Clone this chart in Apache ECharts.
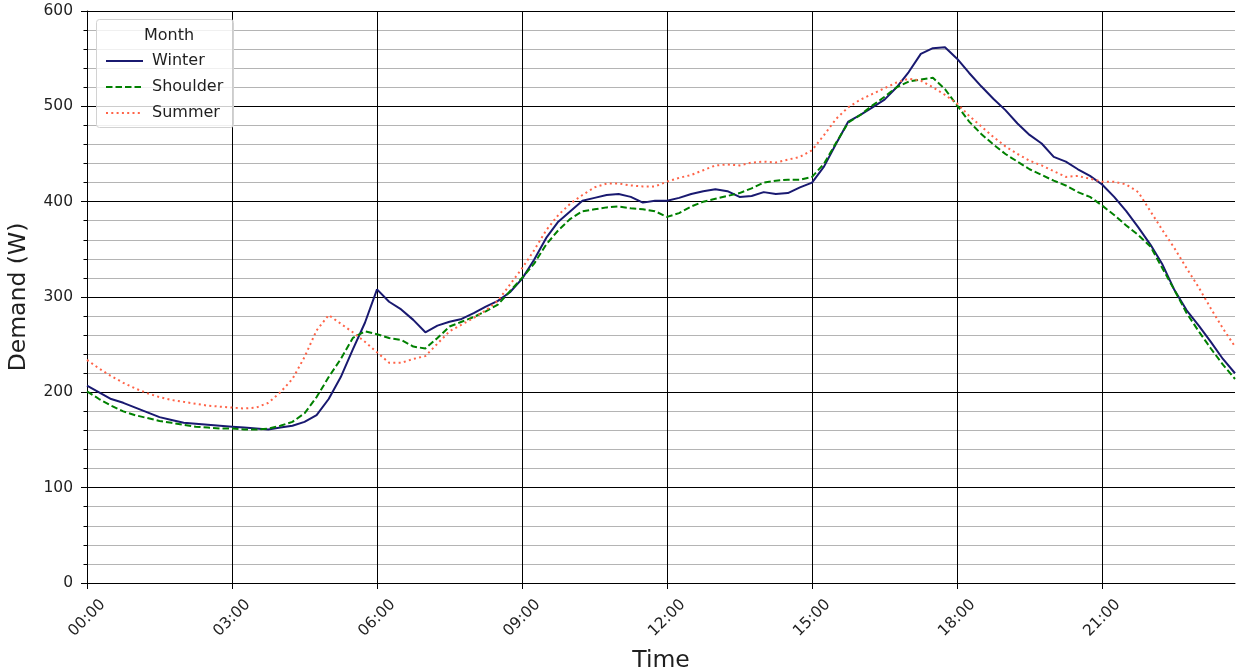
<!DOCTYPE html>
<html>
<head>
<meta charset="utf-8">
<script src="https://cdn.jsdelivr.net/npm/echarts@6/dist/echarts.min.js"></script>
<style>
  html, body { margin: 0; padding: 0; background: #ffffff; }
  #chart { width: 1236px; height: 672px; }
</style>
</head>
<body>
<div id="chart"></div>
<script>
// Average daily demand profile, 15-minute resolution (96 samples per day)
const seriesNames = ['Winter', 'Shoulder', 'Summer'];

const winter = [
  207, 200, 193, 189, 184, 179, 174, 171, 168, 167, 166, 165,
  164, 163, 162, 161, 163, 165, 169, 176, 193, 216, 245, 273,
  308, 295, 287, 276, 263, 270, 274, 277, 283, 290, 296, 305,
  319, 339, 362, 379, 390, 401, 404, 407, 408, 405, 399, 401,
  401, 404, 408, 411, 413, 411, 405, 406, 410, 408, 409, 415,
  420, 437, 461, 484, 491, 499, 507, 520, 536, 555, 561, 562,
  550, 535, 521, 508, 496, 482, 470, 461, 447, 442, 434, 427,
  418, 405, 390, 373, 355, 334, 307, 286, 270, 253, 235, 220
];

const shoulder = [
  201, 193, 186, 180, 176, 173, 170, 168, 166, 164, 163, 162,
  162, 161, 161, 162, 165, 169, 178, 195, 216, 235, 257, 264,
  261, 257, 255, 248, 246, 257, 269, 274, 279, 285, 292, 306,
  320, 335, 355, 370, 382, 390, 392, 394, 395, 393, 392, 390,
  384, 388, 395, 400, 403, 406, 409, 414, 420, 422, 423, 423,
  426, 440, 462, 483, 491, 501, 510, 520, 526, 528, 530, 518,
  501, 484, 471, 460, 450, 442, 434, 428, 422, 417, 410, 405,
  396, 386, 375, 365, 353, 330, 307, 283, 264, 246, 229, 214
];

const summer = [
  234, 225, 217, 210, 204, 199, 195, 192, 190, 188, 186, 185,
  184, 183, 184, 189, 200, 214, 237, 265, 281, 272, 263, 253,
  242, 231, 231, 235, 238, 251, 264, 271, 278, 286, 296, 313,
  330, 349, 370, 386, 398, 407, 415, 419, 419, 417, 416, 416,
  421, 425, 428, 433, 438, 439, 438, 441, 442, 441, 444, 447,
  454, 470, 487, 499, 507, 513, 519, 525, 529, 527, 520, 512,
  503, 490, 479, 468, 458, 450, 443, 438, 432, 426, 427, 424,
  421, 421, 418, 410, 390, 370, 351, 330, 310, 288, 267, 248
];

// Time-of-day categories: 00:00, 00:15, ... 23:45
const times = [];
for (let m = 0; m < 24 * 60; m += 15) {
  const h = String(Math.floor(m / 60)).padStart(2, '0');
  const mm = String(m % 60).padStart(2, '0');
  times.push(h + ':' + mm);
}

const yTicks = { min: 0, max: 600, step: 100 };

const FONT = 'DejaVu Sans';
const TEXT = '#1f1f1f';
const showEvery3h = (i) => i % 12 === 0;

const chart = echarts.init(document.getElementById('chart'), null, { renderer: 'canvas' });

const option = {
  backgroundColor: '#ffffff',
  animation: false,
  textStyle: { fontFamily: FONT },
  grid: {
    left: 87, top: 11, width: 1148, height: 572,
    containLabel: false, outerBoundsMode: 'none'
  },
  title: {
    text: 'Month',
    left: 164, top: 22, textAlign: 'center',
    textStyle: { fontFamily: FONT, fontSize: 16, fontWeight: 'normal', color: TEXT, lineHeight: 18 }
  },
  legend: {
    orient: 'vertical',
    left: 100, top: 48,
    itemWidth: 37, itemHeight: 16, itemGap: 10,
    itemStyle: { opacity: 0 },
    textStyle: { fontFamily: FONT, fontSize: 16, color: TEXT, lineHeight: 16, padding: [0, 0, 0, 4] },
    data: seriesNames
  },
  graphic: [{
    type: 'rect',
    shape: { x: 96.5, y: 19.5, width: 137, height: 108, r: 3 },
    style: { fill: 'rgba(255,255,255,0.8)', stroke: '#d2d2d2', lineWidth: 1 },
    z: 3
  }],
  xAxis: {
    type: 'category',
    data: times,
    boundaryGap: false,
    name: 'Time',
    nameLocation: 'middle',
    nameGap: 66,
    nameTextStyle: { fontFamily: FONT, fontSize: 23.5, color: TEXT },
    axisLine: { show: true, lineStyle: { color: '#000', width: 1 } },
    axisTick: { show: true, interval: showEvery3h, length: 6, lineStyle: { color: '#000' } },
    axisLabel: {
      interval: showEvery3h, rotate: 45, margin: 35,
      align: 'center', verticalAlign: 'middle',
      fontFamily: FONT, fontSize: 15.5, color: TEXT
    },
    splitLine: { show: true, interval: showEvery3h, lineStyle: { color: '#000', width: 1 } }
  },
  yAxis: {
    type: 'value',
    min: yTicks.min, max: yTicks.max, interval: yTicks.step,
    name: 'Demand (W)',
    nameLocation: 'middle',
    nameGap: 56,
    nameTextStyle: { fontFamily: FONT, fontSize: 23.5, color: TEXT },
    axisLine: { show: true, lineStyle: { color: '#000', width: 1 } },
    axisTick: { show: true, length: 6, lineStyle: { color: '#000' } },
    minorTick: { show: true, splitNumber: 5, length: 3.5, lineStyle: { color: '#000' } },
    axisLabel: { margin: 14, fontFamily: FONT, fontSize: 15.5, color: TEXT },
    splitLine: { show: true, lineStyle: { color: '#000', width: 1 } },
    minorSplitLine: { show: true, lineStyle: { color: '#b4b4b4', width: 1 } }
  },
  series: [
    {
      name: seriesNames[0], type: 'line', data: winter,
      symbol: 'none', smooth: false, z: 4,
      lineStyle: { color: '#191970', width: 2 },
      itemStyle: { color: '#191970' }
    },
    {
      name: seriesNames[1], type: 'line', data: shoulder,
      symbol: 'none', smooth: false, z: 4,
      lineStyle: { color: '#008000', width: 2, type: [6.5, 3] },
      itemStyle: { color: '#008000' }
    },
    {
      name: seriesNames[2], type: 'line', data: summer,
      symbol: 'none', smooth: false, z: 4,
      lineStyle: { color: '#ff6347', width: 2, type: [2, 3.3] },
      itemStyle: { color: '#ff6347' }
    }
  ]
};

chart.setOption(option);
</script>
</body>
</html>
